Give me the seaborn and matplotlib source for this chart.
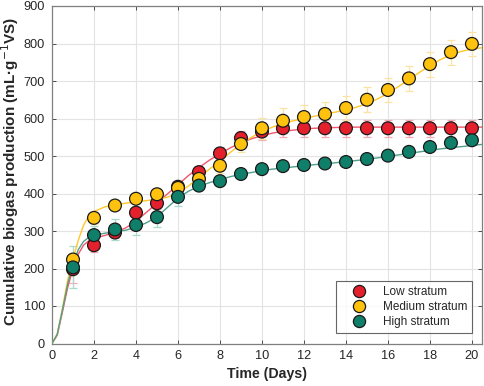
import numpy as np
import pandas as pd
import matplotlib
matplotlib.use("Agg")
import matplotlib.pyplot as plt
import seaborn as sns

# measured points (days 1..20)
days = list(range(1, 21))
low = [198, 262, 296, 349, 374, 418, 457, 507, 548, 565,
       574, 574, 574, 574, 574, 574, 574, 574, 574, 574]
medium = [224, 335, 368, 386, 398, 415, 439, 474, 532, 574,
          594, 604, 612, 628, 650, 676, 707, 745, 777, 799]
high = [203, 289, 304, 316, 337, 391, 421, 433, 452, 465,
        473, 476, 480, 484, 492, 501, 511, 524, 535, 542]

low_err = [36, 19, 15, 15, 15, 15, 15, 18, 20, 22,
           22, 22, 22, 22, 22, 22, 22, 22, 22, 22]
medium_err = [15, 15, 12, 12, 12, 15, 15, 18, 22, 28,
              33, 33, 33, 33, 33, 33, 33, 33, 33, 33]
high_err = [56, 25, 29, 27, 27, 25, 10, 8, 8, 8,
            8, 8, 8, 8, 8, 8, 8, 8, 8, 8]

# fitted curves
t_fit = [0, 0.25, 0.5, 0.75, 1, 1.25, 1.5, 1.75, 2, 2.5, 3, 3.5, 4, 4.5, 5,
         5.5, 6, 6.5, 7, 7.5, 8, 8.5, 9, 9.5, 10, 10.5, 11, 11.5, 12, 12.5,
         13, 13.5, 14, 14.5, 15, 15.5, 16, 16.5, 17, 17.5, 18, 18.5, 19,
         19.5, 20, 20.5]
low_fit = [0, 22, 85, 150, 200, 238, 262, 274, 280, 288, 296, 308, 326, 350,
           374, 399, 423, 448, 469, 489, 506, 522, 535, 546, 554, 561, 566,
           569, 572, 574, 575, 576, 576.5, 577, 577, 577, 577, 577, 577, 577,
           577, 577, 577, 577, 577, 577]
medium_fit = [0, 25, 95, 170, 225, 275, 315, 340, 352, 364, 370, 374, 378,
              381, 385, 390, 401, 420, 443, 465, 487, 510, 531, 550, 565, 577,
              587, 594, 600, 606, 612, 617, 623, 630, 640, 652, 667, 685, 704,
              723, 741, 757, 770, 779, 785, 789]
high_fit = [0, 25, 90, 160, 210, 250, 272, 283, 288, 294, 298, 302, 310, 322,
            338, 363, 388, 406, 419, 429, 437, 445, 451, 456, 461, 465, 468,
            471, 474, 477, 479, 482, 485, 488, 491, 495, 499, 503, 507, 511,
            515, 519, 522, 525, 528, 531]

labels = ["Low stratum", "Medium stratum", "High stratum"]
marker_colors = ["#E3202C", "#FFC20E", "#0F7F69"]
line_colors = ["#F2566C", "#FFC72C", "#4FA08B"]
err_colors = ["#F5A9B3", "#FBE3A4", "#A9D8CC"]

pts = pd.DataFrame({
    "day": days * 3,
    "value": low + medium + high,
    "group": [labels[0]] * 20 + [labels[1]] * 20 + [labels[2]] * 20,
})
fits = pd.DataFrame({
    "t": t_fit * 3,
    "value": low_fit + medium_fit + high_fit,
    "group": [labels[0]] * len(t_fit) + [labels[1]] * len(t_fit)
    + [labels[2]] * len(t_fit),
})

sns.set_theme(style="ticks")
plt.rcParams["font.family"] = ["Liberation Sans", "DejaVu Sans"]

fig = plt.figure(figsize=(4.84, 3.86), dpi=100)
ax = fig.add_axes([52 / 484, 1 - 343.5 / 386, 430 / 484, 337.5 / 386])

for vals, errs, c in zip([low, medium, high], [low_err, medium_err, high_err], err_colors):
    ax.errorbar(days, vals, yerr=errs, fmt="none", ecolor=c, elinewidth=0.9,
                capsize=3, capthick=0.9, zorder=2)

sns.lineplot(data=fits, x="t", y="value", hue="group", hue_order=labels,
             palette=dict(zip(labels, line_colors)), linewidth=1.0,
             legend=False, ax=ax, zorder=3)

sns.scatterplot(data=pts, x="day", y="value", hue="group", hue_order=labels,
                palette=dict(zip(labels, marker_colors)), s=85,
                edgecolor="#1a1a1a", linewidth=0.9, ax=ax, zorder=4)

ax.set_xlim(0, 20.48)
ax.set_ylim(0, 900)
ax.set_xticks(range(0, 21, 2))
ax.set_yticks(range(0, 901, 100))
ax.grid(True, color="#e3e3e3", linewidth=0.8)
ax.set_axisbelow(True)
for s in ax.spines.values():
    s.set_color("#7f7f7f")
    s.set_linewidth(0.9)
ax.tick_params(direction="in", length=3, width=0.7, color="#4d4d4d",
               labelsize=9.2, labelcolor="#262626", top=True, right=True,
               pad=5)

ax.set_xlabel("Time (Days)", fontsize=10.2, fontweight="bold", labelpad=3)
ax.set_ylabel("Cumulative biogas production (mL\u00b7g$^{-1}$VS)", fontsize=11,
              fontweight="bold")
ax.yaxis.set_label_coords(-0.073, 0.51)

leg = ax.legend(loc="lower right", bbox_to_anchor=(0.977, 0.031), fontsize=8.5,
                frameon=True, fancybox=False, edgecolor="#404040",
                borderpad=0.4, handletextpad=0.48, labelspacing=0.28,
                markerscale=0.95, handlelength=3.1, borderaxespad=0)
leg.get_frame().set_linewidth(0.8)

fig.savefig("out.png", dpi=100)
